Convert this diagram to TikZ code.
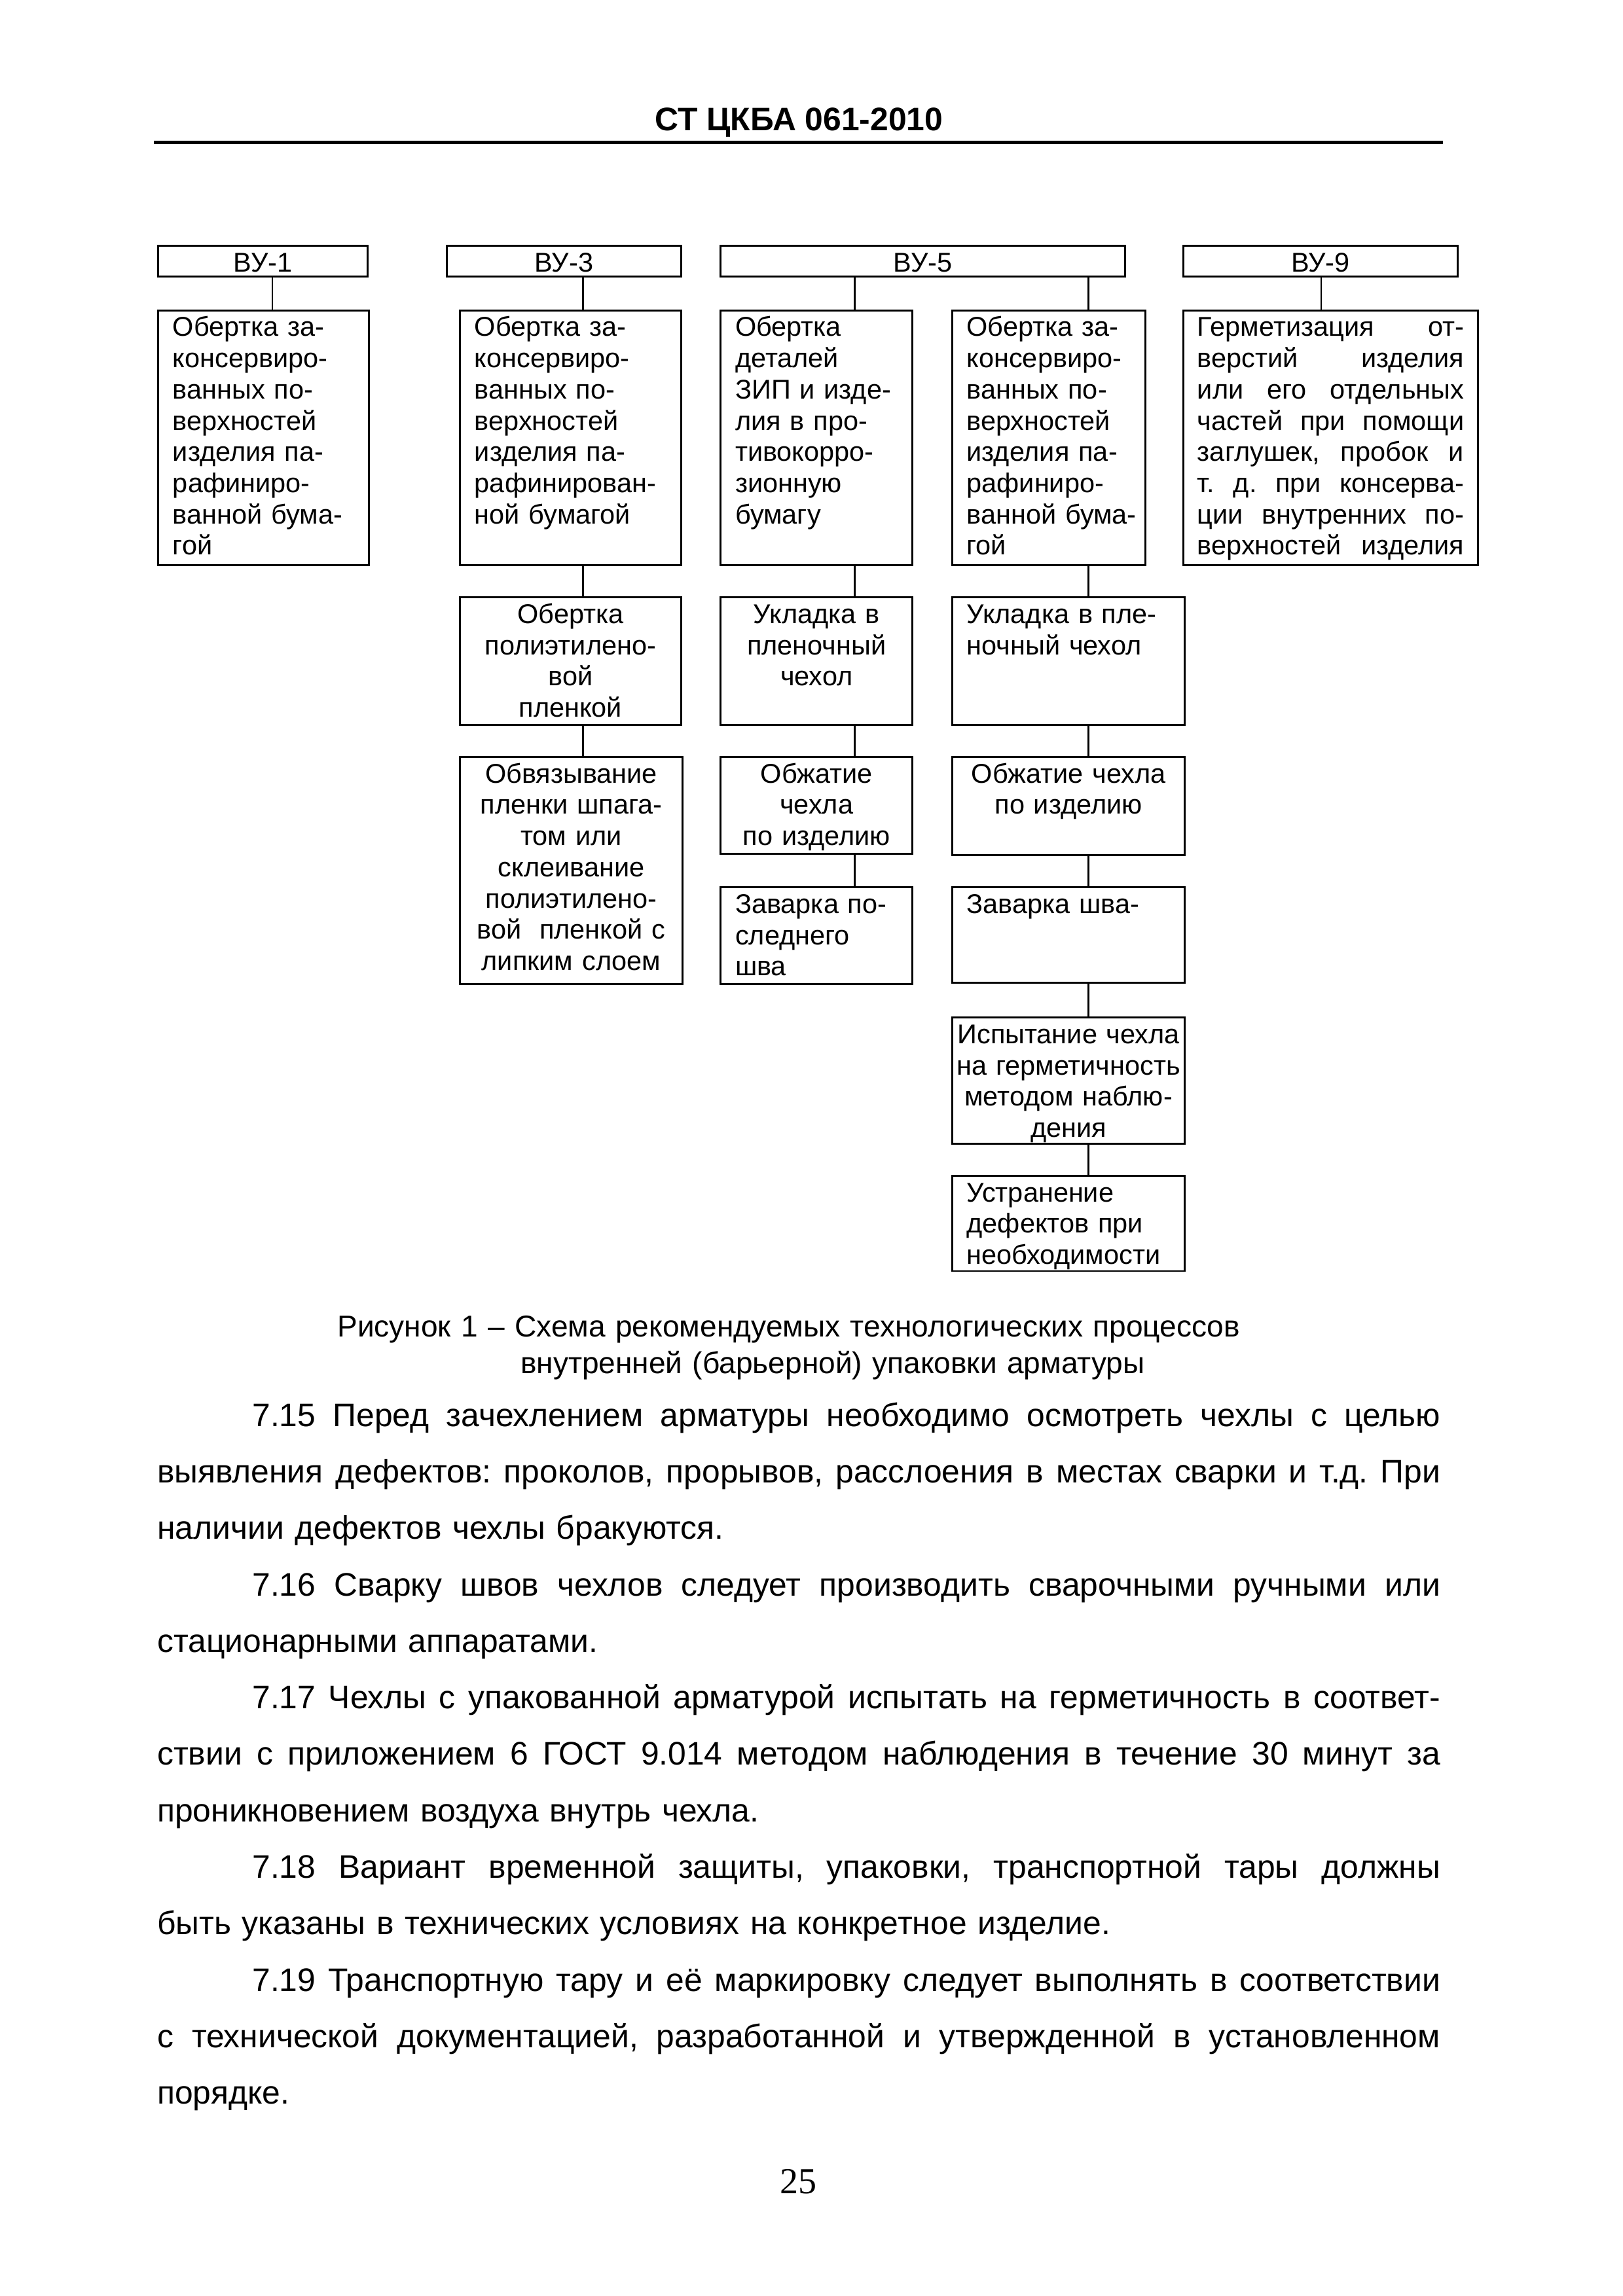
\documentclass[tikz,border=0pt]{standalone}
\usepackage{fontspec}
\setmainfont{Liberation Sans}
\newfontfamily\serifnum{Liberation Serif}
\frenchspacing

\tikzset{
  blk/.style={draw, line width=0.7pt, anchor=north west, inner ysep=0.2mm, outer sep=0pt,
    text height=3.15mm, font=\fontsize{10}{11.5}\selectfont},
  conn/.style={line width=0.6pt},
}
% box: name, left, top, right, bottom, align, padding, text
\newcommand\stage[8]{%
  \pgfmathsetlengthmacro\stagew{(#4-#2-2*#7)*0.1895mm}%
  \pgfmathsetlengthmacro\staged{(#5-#3)*0.1895mm-3.55mm}%
  \pgfmathsetlengthmacro\stagex{#7*0.1895mm}%
  \node[blk, align=#6, text width=\stagew, inner xsep=\stagex, text depth=\staged] (#1) at (#2,#3) {#8};}
% justified lines
\newcommand\just[2][166mm]{\makebox[#1][s]{\spaceskip=0pt\relax\xspaceskip=0pt\relax #2}}
\newcommand\firstl[1]{\hspace*{12.3mm}\just[153.7mm]{#1}}

\begin{document}
\begin{tikzpicture}[x=0.1895mm, y=-0.1895mm]
  \useasboundingbox (0,0) rectangle (1108,1568);

  \node[anchor=base, font=\bfseries\fontsize{12}{14}\selectfont] (title) at (545.5,89) {СТ ЦКБА 061-2010};
  \draw[line width=1.2pt] (105,97) -- (985,97);

  % variants
  \stage{vu1}{108}{168}{251}{189}{center}{2}{ВУ-1}
  \stage{vu3}{305}{168}{465}{189}{center}{2}{ВУ-3}
  \stage{vu5}{492}{168}{768}{189}{center}{2}{ВУ-5}
  \stage{vu9}{808}{168}{995}{189}{center}{2}{ВУ-9}

  % first row
  \stage{a1}{108}{212}{252}{386}{left}{10}{Обертка за-\\консервиро-\\ванных по-\\верхностей\\изделия па-\\рафиниро-\\ванной бума-\\гой}
  \stage{b1}{314}{212}{465}{386}{left}{10}{Обертка за-\\консервиро-\\ванных по-\\верхностей\\изделия па-\\рафинирован-\\ной бумагой}
  \stage{c1}{492}{212}{623}{386}{left}{10}{Обертка\\деталей\\ЗИП и изде-\\лия в про-\\тивокорро-\\зионную\\бумагу}
  \stage{d1}{650}{212}{782}{386}{left}{10}{Обертка за-\\консервиро-\\ванных по-\\верхностей\\изделия па-\\рафиниро-\\\mbox{ванной бума-}\\гой}
  \stage{e1}{808}{212}{1009}{386}{left}{9.5}{\just[34.49mm]{Герметизация от-}\\\just[34.49mm]{верстий изделия}\\\just[34.49mm]{или его отдельных}\\\just[34.49mm]{частей при помощи}\\\just[34.49mm]{заглушек, пробок и}\\\just[34.49mm]{т. д. при консерва-}\\\just[34.49mm]{ции внутренних по-}\\\just[34.49mm]{верхностей изделия}}

  % lower rows
  \stage{b2}{314}{408}{465}{495}{center}{4}{Обертка\\полиэтилено-\\вой\\пленкой}
  \stage{c2}{492}{408}{623}{495}{center}{4}{Укладка в\\пленочный\\чехол}
  \stage{d2}{650}{408}{809}{495}{left}{10}{Укладка в пле-\\ночный чехол}
  \stage{b3}{314}{517}{466}{672}{center}{4}{Обвязывание\\пленки шпага-\\том или\\склеивание\\полиэтилено-\\вой\ \ пленкой с\\липким слоем}
  \stage{c3}{492}{517}{623}{583}{center}{4}{Обжатие\\чехла\\по изделию}
  \stage{d3}{650}{517}{809}{584}{center}{4}{Обжатие чехла\\по изделию}
  \stage{c4}{492}{606}{623}{672}{left}{10}{Заварка по-\\следнего\\шва}
  \stage{d4}{650}{606}{809}{671}{left}{10}{Заварка шва-}
  \stage{d5}{650}{695}{809}{781}{center}{2}{Испытание чехла\\на герметичность\\методом наблю-\\дения}
  \stage{d6}{650}{803}{809}{868}{left}{10}{Устранение\\дефектов при\\необходимости}

  \coordinate (colA) at (186,0);
  \coordinate (colB) at (398,0);
  \coordinate (colC) at (583.5,0);
  \coordinate (colD) at (743,0);
  \coordinate (colE) at (902,0);
  \foreach \src/\dst/\cx in {vu1/a1/colA, vu3/b1/colB, b1/b2/colB, b2/b3/colB,
      vu5/c1/colC, c1/c2/colC, c2/c3/colC, c3/c4/colC,
      vu5/d1/colD, d1/d2/colD, d2/d3/colD, d3/d4/colD, d4/d5/colD, d5/d6/colD,
      vu9/e1/colE}
    \draw[conn] (\src.south -| \cx) -- (\dst.north -| \cx);

  \node[anchor=base west, text width=140mm, align=left, inner sep=0pt,
    font=\fontsize{11.1}{13.4}\selectfont] (caption) at (230,913)
    {Рисунок 1 – Схема рекомендуемых технологических процессов\\\hspace*{23.7mm}внутренней (барьерной) упаковки арматуры};

  \node[anchor=base west, text width=166mm, align=left, inner sep=0pt,
    font=\fontsize{12}{20.8}\selectfont] (body) at (107,974)
    {\firstl{7.15 Перед зачехлением арматуры необходимо осмотреть чехлы с целью}\\
     \just{выявления дефектов: проколов, прорывов, расслоения в местах сварки и т.д. При}\\
     наличии дефектов чехлы бракуются.\\
     \firstl{7.16 Сварку швов чехлов следует производить сварочными ручными или}\\
     стационарными аппаратами.\\
     \firstl{7.17 Чехлы с упакованной арматурой испытать на герметичность в соответ-}\\
     \just{ствии с приложением 6 ГОСТ 9.014 методом наблюдения в течение 30 минут за}\\
     проникновением воздуха внутрь чехла.\\
     \firstl{7.18 Вариант временной защиты, упаковки, транспортной тары должны}\\
     быть указаны в технических условиях на конкретное изделие.\\
     \firstl{7.19 Транспортную тару и её маркировку следует выполнять в соответствии}\\
     \just{с технической документацией, разработанной и утвержденной в установленном}\\
     порядке.};

  \node[anchor=base, font=\serifnum\fontsize{13.5}{16}\selectfont] (pagenum) at (545,1498) {25};
\end{tikzpicture}
\end{document}
